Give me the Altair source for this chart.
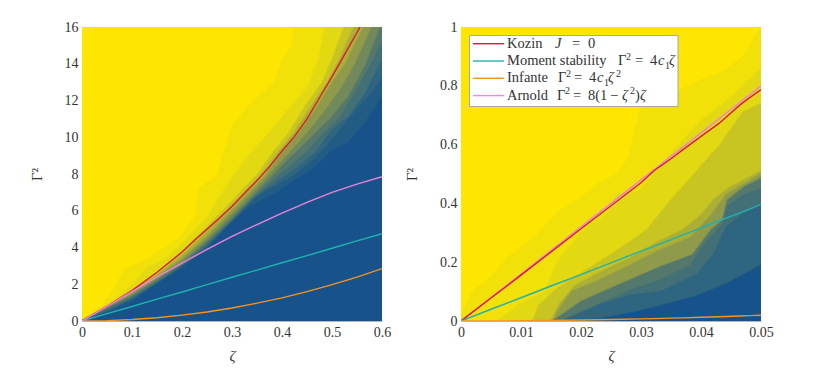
import altair as alt
import pandas as pd

alt.data_transformers.disable_max_rows()

FONT = "Liberation Serif"
YELLOW = "#FFE600"
C1, C2, C3, C34, C4, C45, C5, C56, C6, C67, C7 = ("#F1E108", "#E3D912", "#C8C422", "#ABAF36", "#8F9B4A", "#728A5B",
                                                   "#55786C", "#427076", "#2E6580", "#225C85", "#17538A")

# Left panel: contour boundaries (zeta, Gamma^2), one list per level
left_l1 = [(0,0),(.04,.85),(.067,1.9),(.087,2.85),(.133,3.4),(.193,4.5),(.227,5.7),(.233,7.2),(.27,7.9),(.3,10.6),(.333,11.7),(.387,13.1),(.4,14.2),(.42,15),(.425,16.3),(.6,16.3)]
left_l2 = [(0,0),(.05,.85),(.1,1.9),(.13,2.9),(.17,3.4),(.2,4.2),(.25,5.6),(.3,7.8),(.333,9),(.38,10.4),(.413,11.5),(.453,12.8),(.473,14.2),(.487,16.2),(.6,16.2)]
left_l3 = [(0,0),(.05,.8),(.1,1.65),(.15,2.6),(.2,3.75),(.25,5.1),(.3,6.5),(.353,8.05),(.38,9.1),(.413,10.2),(.447,11.7),(.48,12.95),(.5,14.2),(.527,16.2),(.6,16.2)]
left_m34 = [(0,0),(.05,.78),(.1,1.57),(.15,2.5),(.2,3.57),(.25,4.85),(.3,6.25),(.36,8),(.39,9.1),(.423,10.2),(.457,11.6),(.49,12.95),(.513,14.1),(.547,16.2),(.6,16.2)]
left_l4 = [(0,0),(.05,.75),(.1,1.5),(.15,2.4),(.2,3.4),(.25,4.6),(.3,6.0),(.367,7.9),(.4,9.15),(.433,10.2),(.467,11.5),(.5,12.95),(.527,14),(.567,16.2),(.6,16.2)]
left_m45 = [(0,0),(.05,.72),(.1,1.42),(.15,2.3),(.2,3.25),(.25,4.45),(.3,5.8),(.36,7.5),(.41,9),(.45,10.2),(.483,11.3),(.517,12.6),(.547,14),(.583,16.2),(.6,16.2)]
left_l5 = [(0,0),(.05,.7),(.1,1.35),(.15,2.2),(.2,3.1),(.25,4.3),(.3,5.6),(.35,7),(.413,8.8),(.433,9.3),(.467,10.2),(.5,11.1),(.533,12.2),(.567,13.9),(.6,16.2)]
left_m56 = [(0,0),(.05,.62),(.1,1.27),(.15,2.12),(.2,3.05),(.25,4.2),(.3,5.5),(.35,6.9),(.423,8.6),(.45,9.2),(.483,10.2),(.517,11.1),(.55,12.6),(.583,14.2),(.6,15.2)]
left_l6 = [(0,0),(.05,.55),(.1,1.2),(.15,2.05),(.2,3.0),(.25,4.1),(.3,5.4),(.35,6.8),(.433,8.4),(.467,9.15),(.5,10.4),(.533,11.1),(.567,12.4),(.6,14.2)]
left_m67 = [(0,0),(.05,.48),(.1,1.15),(.15,1.98),(.2,2.9),(.25,4),(.3,5.35),(.347,6.7),(.42,7.85),(.453,8.5),(.483,9.3),(.517,10.4),(.55,11.5),(.583,12.5),(.6,13.2)]
left_l7 = [(0,0),(.05,.42),(.103,1.1),(.143,1.9),(.196,2.8),(.25,3.9),(.29,5.1),(.33,6.1),(.396,7.1),(.44,7.9),(.467,8.4),(.5,9.3),(.533,9.7),(.567,10.8),(.6,12.2)]

# Right panel: contour boundaries
right_l1 = [(0,.02),(.002,.1),(.005,.15),(.008,.22),(.012,.28),(.016,.37),(.02,.42),(.023,.47),(.026,.5),(.028,.56),(.0298,.72),(.033,.75),(.04,.82),(.044,.85),(.047,.9),(.05,1.0)]
right_l2 = [(.006,0),(.01,.06),(.014,.1),(.016,.2),(.02,.3),(.024,.36),(.026,.43),(.0295,.44),(.031,.47),(.035,.57),(.04,.68),(.045,.76),(.05,.86)]
right_l3 = [(.012,0),(.013,.054),(.016,.11),(.0204,.167),(.023,.2),(.0282,.27),(.031,.31),(.0345,.4),(.038,.48),(.041,.55),(.0432,.6),(.047,.71),(.05,.74)]
right_m34 = [(.015,0),(.0165,.06),(.019,.12),(.023,.165),(.0282,.215),(.033,.27),(.037,.31),(.04,.36),(.042,.41),(.0445,.45),(.05,.51)]
right_l4 = [(.0155,0),(.016,.03),(.0184,.1),(.023,.139),(.0282,.19),(.033,.24),(.0383,.285),(.0417,.36),(.0442,.43),(.05,.5)]
right_l5 = [(.015,0),(.016,.009),(.02,.066),(.0248,.11),(.0282,.14),(.0333,.185),(.0386,.225),(.0417,.31),(.0436,.343),(.0444,.411),(.0472,.456),(.05,.485)]
right_m56 = [(.0165,0),(.02,.03),(.025,.075),(.0282,.105),(.0333,.14),(.0383,.19),(.0405,.26),(.0436,.33),(.0444,.39),(.0472,.43),(.05,.45)]
right_l6 = [(.017,0),(.023,.054),(.0282,.088),(.0333,.1),(.0394,.16),(.0422,.23),(.0442,.32),(.047,.365),(.05,.395)]
right_l7 = [(.021,0),(.0282,.026),(.033,.05),(.039,.083),(.0444,.128),(.05,.19)]

# Curves, left panel
zeta_left = [0,.05,.1,.15,.2,.225,.25,.275,.3,.325,.35,.375,.4,.425,.45,.475,.5,.525,.55,.575]
kozin_left = [0,.8,1.65,2.65,3.75,4.4,5.0,5.6,6.25,6.95,7.65,8.4,9.25,10.05,11.0,12.15,13.3,14.5,15.7,17.0]
zeta_left2 = [0,.05,.1,.15,.2,.25,.3,.35,.4,.45,.5,.55,.6]
moment_left = [0,.4,.79,1.19,1.58,1.98,2.38,2.77,3.17,3.56,3.96,4.36,4.75]
infante_left = [0,.02,.08,.18,.32,.49,.71,.97,1.26,1.6,1.98,2.39,2.85]
arnold_left = [0,.8,1.6,2.4,3.15,3.9,4.6,5.25,5.87,6.45,7.0,7.45,7.85]
# Curves, right panel
zeta_right = [0,.005,.01,.015,.02,.025,.03,.0322,.035,.037,.04,.043,.0465,.048,.05]
kozin_right = [0,.078,.156,.235,.314,.392,.47,.512,.552,.583,.628,.672,.735,.758,.787]
moment_right = [0,.04,.079,.119,.158,.198,.238,.255,.277,.293,.317,.341,.368,.38,.397]
infante_right = [0,.0002,.0008,.0018,.0032,.005,.0071,.0082,.0097,.0108,.0127,.0146,.0171,.0182,.0198]
arnold_right = [0,.08,.16,.24,.32,.4,.48,.515,.56,.592,.64,.688,.744,.768,.8]

RED, TEAL, ORANGE, PINK = "#DC1A3C", "#1FB2B0", "#F8921E", "#EE80DC"


def axis(vals, title, pad, italic=False):
    return alt.Axis(values=vals, title=title, format="~g", grid=False, ticks=False,
                    labelFont=FONT, labelFontSize=14, labelColor="#333333", labelPadding=4,
                    titleFont=FONT, titleFontSize=15, titleColor="#333333", titleFontWeight="normal",
                    titleFontStyle="italic" if italic else "normal",
                    titlePadding=pad, domainColor="#B5B5B5", domainWidth=1, labelFlush=False)


def panel(levels, curves, xdom, ydom, xvals, yvals):
    xs = alt.X("z:Q", scale=alt.Scale(domain=xdom, nice=False, zero=False), axis=axis(xvals, "ζ", 9, italic=True))
    ys = alt.Y("g:Q", scale=alt.Scale(domain=ydom, nice=False, zero=False), axis=axis(yvals, "Γ²", 20))
    base = alt.Chart(pd.DataFrame({"z": xdom, "g": [ydom[1], ydom[1]]})).mark_area(color=YELLOW, clip=True).encode(x=xs, y=ys, y2=alt.Y2(datum=0))
    layers = [base]
    for pts, c in levels:
        df = pd.DataFrame(pts, columns=["z", "g"])
        layers.append(alt.Chart(df).mark_area(color=c, clip=True, stroke=c, strokeWidth=2, strokeOpacity=0.5).encode(x=xs, y=ys, y2=alt.Y2(datum=0)))
    for zs, vals, c in curves:
        df = pd.DataFrame({"z": zs, "g": vals})
        layers.append(alt.Chart(df).mark_line(color=c, strokeWidth=1.4, clip=True).encode(x=xs, y=ys))
    return layers


def legend_layers():
    out = []
    box = alt.Chart(pd.DataFrame({"a": [0]})).mark_rect(fill="white", stroke="#A8A8A8", strokeWidth=1).encode(
        x=alt.value(8.5), x2=alt.value(217), y=alt.value(8.5), y2=alt.value(79.5))
    out.append(box)
    B, S, N, I = 14.5, 10, "normal", "italic"
    rows = [
        (RED, [("Kozin", 46, B, N), ("J", 94, B, I), ("=", 111, B, N), ("0", 127, B, N)]),
        (TEAL, [("Moment stability", 46, B, N), ("Γ", 157, B, N), ("2", 165, S, N), ("=", 174, B, N), ("4", 189, B, N), ("c", 197, B, I), ("1", 204, S, N), ("ζ", 208, B, I)]),
        (ORANGE, [("Infante", 46, B, N), ("Γ", 97, B, N), ("2", 105, S, N), ("=", 113, B, N), ("4", 128, B, N), ("c", 136, B, I), ("1", 143, S, N), ("ζ", 147, B, I), ("2", 155, S, N)]),
        ("#FF80F0", [("Arnold", 46, B, N), ("Γ", 96, B, N), ("2", 104, S, N), ("=", 112, B, N), ("8(1", 127, B, N), ("−", 149, B, N), ("ζ", 161, B, I), ("2", 169, S, N), (")", 174, B, N), ("ζ", 179, B, I)]),
    ]
    one = pd.DataFrame({"a": [0]})
    for i, (col, segs) in enumerate(rows):
        ypos = 16.7 + i * 17.3
        out.append(alt.Chart(one).mark_rule(color=col, strokeWidth=1.4).encode(
            x=alt.value(12), x2=alt.value(43), y=alt.value(ypos)))
        for txt, xpos, size, style in segs:
            yoff = 0
            if size < 10.5:
                yoff = 4.5 if txt == "1" else -4.5
            out.append(alt.Chart(one).mark_text(text=txt, font=FONT, fontSize=size, fontStyle=style,
                                                 color="#333333", align="left", baseline="middle").encode(
                x=alt.value(xpos), y=alt.value(ypos + yoff)))
    return out


left = alt.layer(*panel([(left_l1, C1), (left_l2, C2), (left_l3, C3), (left_m34, C34), (left_l4, C4), (left_m45, C45),
                         (left_l5, C5), (left_m56, C56), (left_l6, C6), (left_m67, C67), (left_l7, C7)],
                        [(zeta_left, kozin_left, RED), (zeta_left2, moment_left, TEAL), (zeta_left2, infante_left, ORANGE), (zeta_left2, arnold_left, PINK)],
                        [0, .6], [0, 16], [0, .1, .2, .3, .4, .5, .6], [0, 2, 4, 6, 8, 10, 12, 14, 16])
                 ).properties(width=300, height=294)
right = alt.layer(*panel([(right_l1, C1), (right_l2, C2), (right_l3, C3), (right_m34, C34), (right_l4, C4), (right_l5, C5),
                          (right_m56, C56), (right_l6, C6), (right_l7, C7)],
                         [(zeta_right, arnold_right, PINK), (zeta_right, kozin_right, RED), (zeta_right, moment_right, TEAL), (zeta_right, infante_right, ORANGE)],
                         [0, .05], [0, 1], [0, .01, .02, .03, .04, .05], [0, .2, .4, .6, .8, 1]),
                  *legend_layers()).properties(width=300, height=294)

chart = alt.hconcat(left, right, spacing=13).resolve_scale(x="independent", y="independent").properties(
    padding={"left": 21, "top": 12, "right": 5, "bottom": 5}, background="white"
).configure_view(stroke=None)

chart.save("out.html", embed_options={"renderer": "svg", "actions": False})
